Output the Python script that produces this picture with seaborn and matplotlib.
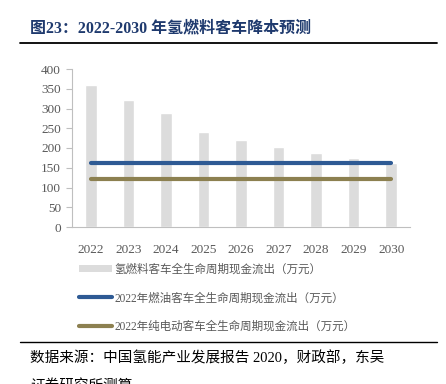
import numpy as np
import pandas as pd
import matplotlib
matplotlib.use('Agg')
import matplotlib.pyplot as plt
from matplotlib.patches import Patch
from matplotlib.lines import Line2D
import seaborn as sns

years = ['2022', '2023', '2024', '2025', '2026', '2027', '2028', '2029', '2030']
fcv_cost = [359, 321, 289, 241, 220, 203, 188, 174, 161]
fuel_bus_2022 = [162] * 9
ev_bus_2022 = [121] * 9

y_ticks = [0, 50, 100, 150, 200, 250, 300, 350, 400]

bar_label = '氢燃料客车全生命周期现金流出（万元）'
fuel_label = '2022年燃油客车全生命周期现金流出（万元）'
ev_label = '2022年纯电动客车全生命周期现金流出（万元）'
title_text = '图23：2022-2030 年氢燃料客车降本预测'
source_1 = '数据来源：中国氢能产业发展报告 2020，财政部，东吴'
source_2 = '证券研究所测算'

bar_color = '#dcdcdc'
fuel_color = '#2e5a94'
ev_color = '#8c8050'
tick_color = '#595959'
spine_color = '#bfbfbf'

sns.set_theme(style='white')
plt.rcParams['font.family'] = ['Liberation Serif', 'Noto Sans CJK SC', 'DejaVu Sans']

W, H = 446, 384
fig = plt.figure(figsize=(W / 100, H / 100), dpi=100)
ax = fig.add_axes([72 / W, 1 - 227 / H, (410 - 72) / W, (227 - 69) / H])

df = pd.DataFrame({'year': years, 'cost': fcv_cost})
sns.barplot(data=df, x='year', y='cost', color=bar_color, saturation=1,
            width=0.31, ax=ax)
xs = np.arange(len(years))
ax.plot(xs, fuel_bus_2022, color=fuel_color, lw=3, solid_capstyle='round')
ax.plot(xs, ev_bus_2022, color=ev_color, lw=3, solid_capstyle='round')

ax.set_xlim(-0.5, 8.5)
ax.set_ylim(0, 400)
ax.set_yticks(y_ticks)
ax.set_xlabel('')
ax.set_ylabel('')
for s in ['top', 'right']:
    ax.spines[s].set_visible(False)
for s in ['left', 'bottom']:
    ax.spines[s].set_color(spine_color)
    ax.spines[s].set_linewidth(0.8)
ax.tick_params(axis='y', left=True, length=4, width=0.8, color=spine_color,
               labelsize=9.5, labelcolor=tick_color, pad=4)
ax.tick_params(axis='x', bottom=False, labelsize=9.5, labelcolor=tick_color, pad=6)
ax.grid(False)

handles = [Patch(facecolor=bar_color, edgecolor='none'),
           Line2D([], [], color=fuel_color, lw=3, solid_capstyle='round'),
           Line2D([], [], color=ev_color, lw=3, solid_capstyle='round')]
leg = fig.legend(handles, [bar_label, fuel_label, ev_label],
                 loc='upper left', bbox_to_anchor=(74 / W, 1 - 259 / H),
                 frameon=False, fontsize=8.3, handlelength=2.9, handleheight=0.6,
                 handletextpad=0.2, labelspacing=1.45, borderaxespad=0)
for t in leg.get_texts():
    t.set_color(tick_color)

fig.text(30 / W, 1 - 28 / H, title_text, fontsize=11.5, fontweight='bold',
         color='#1f3a6e', va='center', ha='left')
fig.add_artist(Line2D([20 / W, 437 / W], [1 - 43 / H, 1 - 43 / H],
                      color='black', lw=1.3))
fig.add_artist(Line2D([20 / W, 437 / W], [1 - 342 / H, 1 - 342 / H],
                      color='black', lw=1.0))
fig.text(30 / W, 1 - 358 / H, source_1, fontsize=10.5, color='black',
         va='center', ha='left')
fig.text(30 / W, 1 - 386 / H, source_2, fontsize=10.5, color='black',
         va='center', ha='left')

plt.savefig('out.png', dpi=100)
plt.close()
